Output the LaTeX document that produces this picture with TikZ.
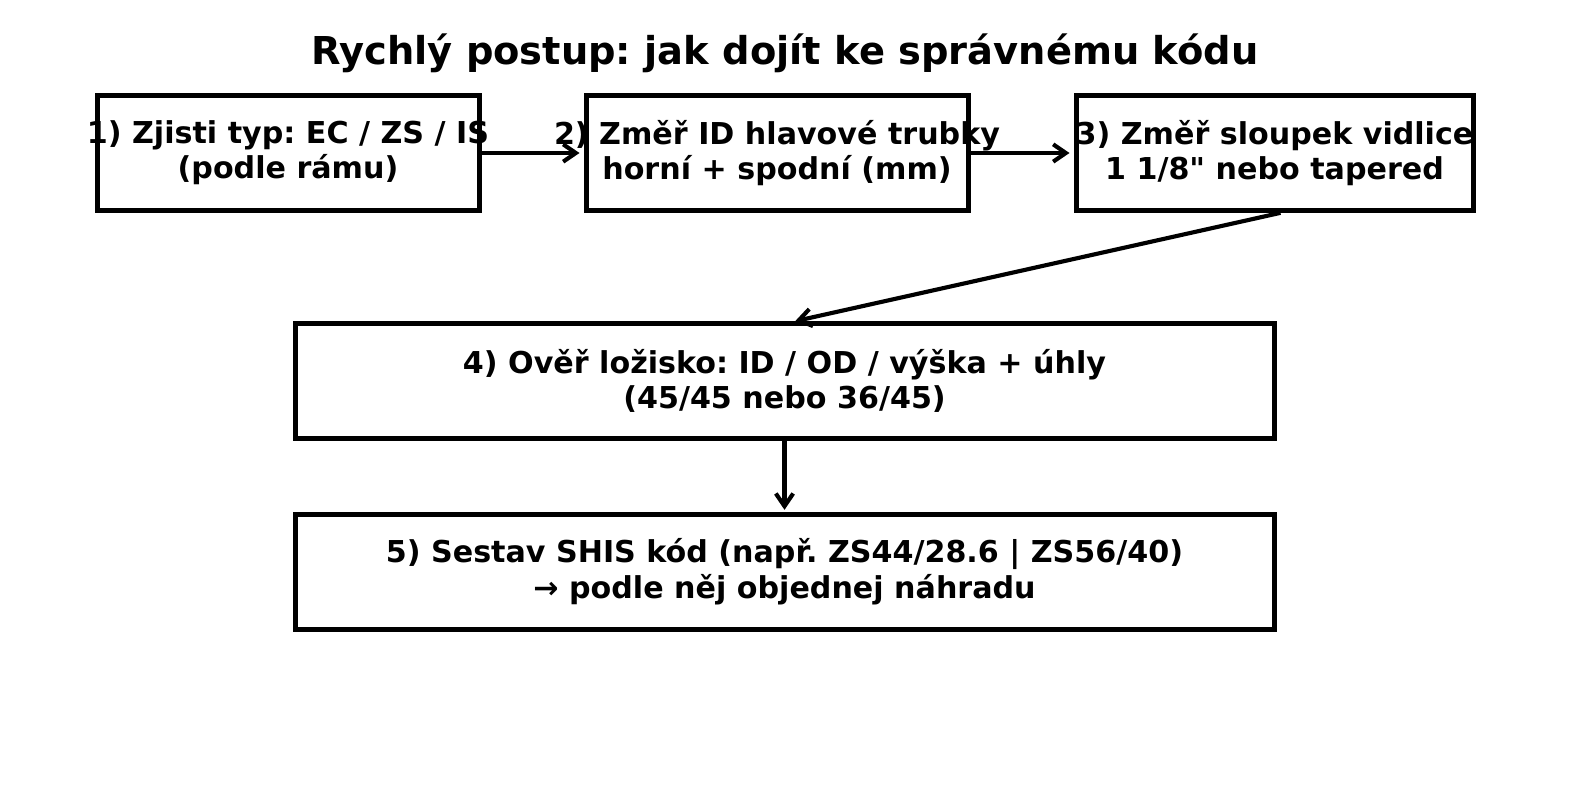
\documentclass[tikz,border=0pt]{standalone}
\usepackage{fontspec}
\setmainfont{DejaVu Sans}
\usetikzlibrary{arrows.meta,positioning}
\newcommand{\wideline}[1]{\makebox[0pt]{#1}}
\frenchspacing

\begin{document}
\begin{tikzpicture}[x=0.75pt,y=-0.75pt,->,>={Straight Barb[length=9.5pt,width=13pt]},shorten >=3pt,
			line width=3.1pt]
			\tikzstyle{stage}=[draw=black,line width=3.75pt,minimum height=86pt,inner sep=0pt,
			align=center,font=\fontsize{22.6}{26.5}\selectfont\bfseries]
			\useasboundingbox (0,0) rectangle (1589,810);
			
			\node[font=\fontsize{28.8}{32}\selectfont\bfseries] (T) at (785,53) {Rychlý postup: jak dojít ke správnému kódu};
			
			\node[stage, minimum width=286.5pt] (S1) at (288,153) {\wideline{1) Zjisti typ: EC / ZS / IS}\\\wideline{(podle rámu)}};
			
			\node[stage, minimum width=286.5pt] (S2) [right=76.5pt of S1] {\wideline{2) Změř ID hlavové trubky}\\\wideline{horní + spodní (mm)}};
			
			\node[stage, minimum width=297.75pt] (S3) [right=77.25pt of S2] {\wideline{3) Změř sloupek vidlice}\\\wideline{1 1/8\textquotedbl{} nebo tapered}};
			
			\node[stage, minimum width=734.25pt] (S4) at (784.5,381) {\wideline{4) Ověř ložisko: ID / OD / výška + úhly}\\\wideline{(45/45 nebo 36/45)}};
			
			\node[stage, minimum width=734.25pt] (S5) [below=53.25pt of S4] {\wideline{5) Sestav SHIS kód (např. ZS44/28.6 | ZS56/40)}\\\wideline{→ podle něj objednej náhradu}};
			
			\path
			
			(S1) edge (S2)
			
			(S2) edge (S3)
			
			([xshift=4.5pt]S3.south) edge[shorten >=0pt] ([xshift=8pt]S4.north)
			
			(S4) edge[shorten >=1.5pt] (S5);
			
			\end{tikzpicture}
\end{document}
